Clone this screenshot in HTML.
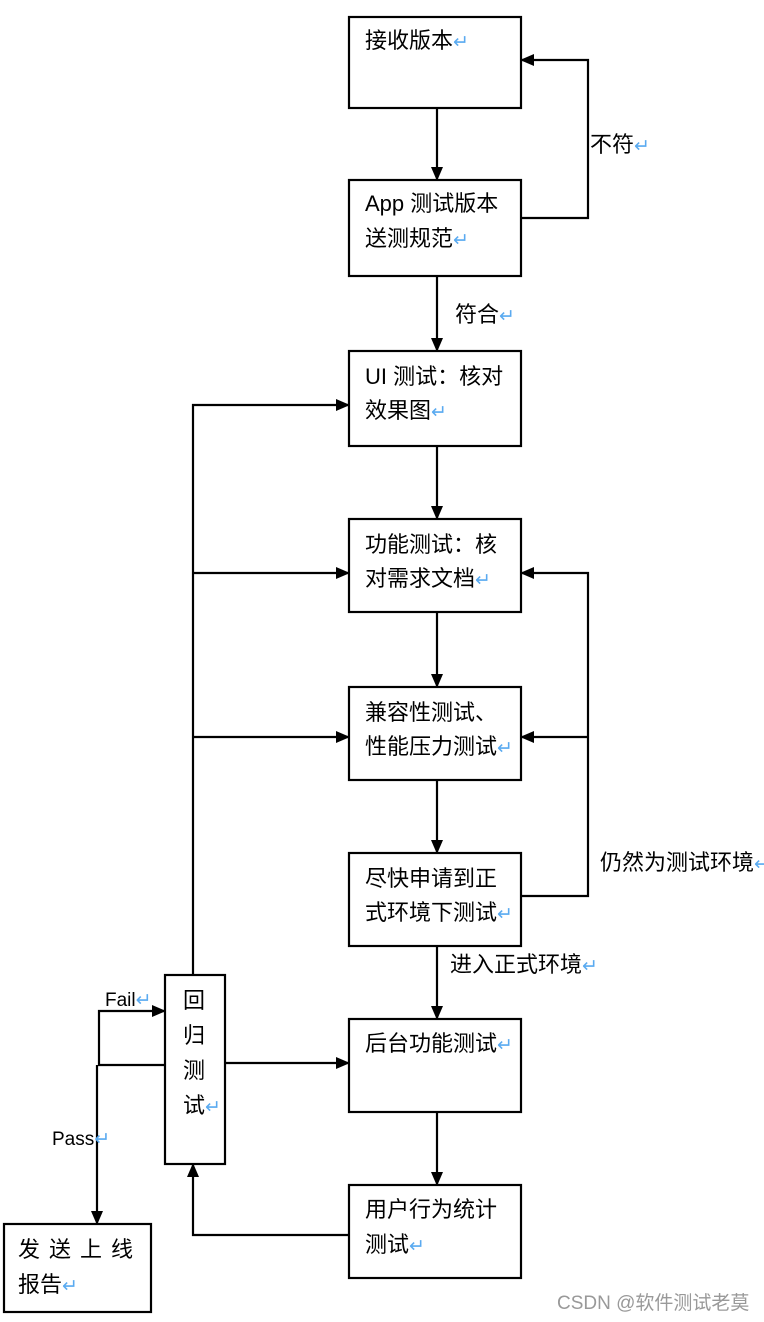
<!DOCTYPE html>
<html><head><meta charset="utf-8"><style>
html,body{margin:0;padding:0;background:#fff;}
svg{display:block;}
text{font-family:"Liberation Sans","Noto Sans CJK SC",sans-serif;font-size:22px;fill:#000;}
.r{fill:#5aaaf0;font-size:19px;}
</style></head><body>
<svg width="764" height="1322" viewBox="0 0 764 1322" xmlns="http://www.w3.org/2000/svg">
<defs>
<marker id="b" markerWidth="14" markerHeight="14" refX="13" refY="7" orient="auto" markerUnits="userSpaceOnUse" viewBox="0 0 14 14"><path d="M0,1 L14,7 L0,13 z" fill="#000"/></marker></defs>
<g fill="none" stroke="#000" stroke-width="2.2">
<rect x="349" y="17" width="172" height="91"/>
<rect x="349" y="180" width="172" height="96"/>
<rect x="349" y="351" width="172" height="95"/>
<rect x="349" y="519" width="172" height="93"/>
<rect x="349" y="687" width="172" height="93"/>
<rect x="349" y="853" width="172" height="93"/>
<rect x="349" y="1019" width="172" height="93"/>
<rect x="349" y="1185" width="172" height="93"/>
<rect x="165" y="975" width="60" height="189"/>
<rect x="4" y="1224" width="147" height="88"/>
<g marker-end="url(#b)">
<line x1="437" y1="108" x2="437" y2="180"/>
<line x1="437" y1="276" x2="437" y2="351"/>
<line x1="437" y1="446" x2="437" y2="519"/>
<line x1="437" y1="612" x2="437" y2="687"/>
<line x1="437" y1="780" x2="437" y2="853"/>
<line x1="437" y1="946" x2="437" y2="1019"/>
<line x1="437" y1="1112" x2="437" y2="1185"/>
<polyline points="521,218 588,218 588,60 521,60"/>
<polyline points="521,896 588,896 588,573 521,573"/>
<line x1="588" y1="737" x2="521" y2="737"/>
<polyline points="193,975 193,405 349,405"/>
<line x1="193" y1="573" x2="349" y2="573"/>
<line x1="193" y1="737" x2="349" y2="737"/>
<line x1="225" y1="1063" x2="349" y2="1063"/>
<polyline points="349,1235 193,1235 193,1164"/>
<polyline points="165,1065 99,1065 99,1011 165,1011"/>
<line x1="97" y1="1065" x2="97" y2="1224"/>
</g>
</g>
<text x="365" y="48">接收版本<tspan class="r">↵</tspan></text>
<text x="365" y="211">App 测试版本</text>
<text x="365" y="246">送测规范<tspan class="r">↵</tspan></text>
<text x="365" y="384">UI 测试：核对</text>
<text x="365" y="418">效果图<tspan class="r">↵</tspan></text>
<text x="365" y="552">功能测试：核</text>
<text x="365" y="586">对需求文档<tspan class="r">↵</tspan></text>
<text x="365" y="720">兼容性测试、</text>
<text x="365" y="754">性能压力测试<tspan class="r">↵</tspan></text>
<text x="365" y="886">尽快申请到正</text>
<text x="365" y="920">式环境下测试<tspan class="r">↵</tspan></text>
<text x="365" y="1051">后台功能测试<tspan class="r">↵</tspan></text>
<text x="365" y="1217">用户行为统计</text>
<text x="365" y="1252">测试<tspan class="r">↵</tspan></text>
<text x="183" y="1008">回</text>
<text x="183" y="1043">归</text>
<text x="183" y="1078">测</text>
<text x="183" y="1113">试<tspan class="r">↵</tspan></text>
<text x="18" y="1257" letter-spacing="9">发送上线</text>
<text x="18" y="1292">报告<tspan class="r">↵</tspan></text>
<text x="590" y="152">不符<tspan class="r">↵</tspan></text>
<text x="455" y="322">符合<tspan class="r">↵</tspan></text>
<text x="600" y="870">仍然为测试环境<tspan class="r">↵</tspan></text>
<text x="450" y="972">进入正式环境<tspan class="r">↵</tspan></text>
<text x="105" y="1006" style="font-size:19px">Fail<tspan class="r">↵</tspan></text>
<text x="52" y="1145" style="font-size:19px">Pass<tspan class="r">↵</tspan></text>
<text x="557" y="1309" style="font-size:19px;fill:#999">CSDN @软件测试老莫</text>
</svg>
</body></html>
